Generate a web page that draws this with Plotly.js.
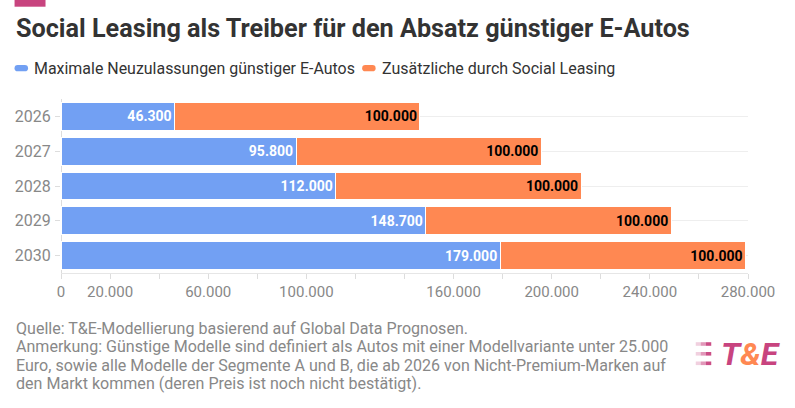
<!DOCTYPE html>
<html>
<head>
<meta charset="utf-8">
<script src="https://cdn.plot.ly/plotly-3.0.1.min.js"></script>
<style>
html,body{margin:0;padding:0;background:#fff;}
#chart{width:795px;height:408px;}
</style>
</head>
<body>
<div id="chart"></div>
<script>
// ---- data ----
const years = ["2026", "2027", "2028", "2029", "2030"];
const maxNeuzulassungen = [46300, 95800, 112000, 148700, 179000];
const zusaetzlichSocial = [100000, 100000, 100000, 100000, 100000];
const seriesNames = ["Maximale Neuzulassungen günstiger E-Autos", "Zusätzliche durch Social Leasing"];
const xTickVals = [0, 20000, 40000, 60000, 80000, 100000, 120000, 140000, 160000, 180000, 200000, 220000, 240000, 260000, 280000];
const xTickText = ["0", "20.000", "", "60.000", "", "100.000", "", "", "160.000", "", "200.000", "", "240.000", "", "280.000"];
const titleText = "Social Leasing als Treiber für den Absatz günstiger E-Autos";
const noteLines = [
  "Quelle: T&E-Modellierung basierend auf Global Data Prognosen.",
  "Anmerkung: Günstige Modelle sind definiert als Autos mit einer Modellvariante unter 25.000",
  "Euro, sowie alle Modelle der Segmente A und B, die ab 2026 von Nicht-Premium-Marken auf",
  "den Markt kommen (deren Preis ist noch nicht bestätigt)."
];

// ---- layout constants ----
const W = 795, H = 408;
const M = {l: 60.5, r: 46.7, t: 99, b: 135};
const PW = W - M.l - M.r, PH = H - M.t - M.b;
const px = x => (x - M.l) / PW;
const py = y => 1 - (y - M.t) / PH;

const BLUE = "#72a0f3", ORANGE = "#ff8852", PINK = "#c8447f";
const FONT = "Roboto, sans-serif";

const traces = [
  {
    type: "bar", orientation: "h", name: seriesNames[0],
    y: years, x: maxNeuzulassungen,
    marker: {color: BLUE, line: {color: "#fff", width: 1}},
    text: maxNeuzulassungen, texttemplate: "%{x:,.0f}",
    textposition: "inside", insidetextanchor: "end",
    textfont: {family: FONT, size: 14, color: "#fff", weight: "bold"},
    hoverinfo: "skip"
  },
  {
    type: "bar", orientation: "h", name: seriesNames[1],
    y: years, x: zusaetzlichSocial,
    marker: {color: ORANGE, line: {color: "#fff", width: 1}},
    text: zusaetzlichSocial, texttemplate: "%{x:,.0f}",
    textposition: "inside", insidetextanchor: "end",
    textfont: {family: FONT, size: 14, color: "#000", weight: "bold"},
    hoverinfo: "skip"
  }
];

const annotations = [];
const fitGroups = {};   // group -> {idx: [annotation indices], ref: index used to fit, width: target px}
const shapes = [];

function addText(x, y, text, font, group) {
  annotations.push({
    xref: "paper", yref: "paper", x: px(x), y: py(y), xanchor: "left", yanchor: "middle",
    align: "left", borderpad: 0, text: text, showarrow: false, font: font
  });
  if (group) fitGroups[group].idx.push(annotations.length - 1);
  return annotations.length - 1;
}
function pill(x0, x1, y0, y1, color) {
  const r = (y1 - y0) / 2;
  const P = (x, y) => px(x) + "," + py(y);
  const d = "M" + P(x0 + r, y0) + " L" + P(x1 - r, y0) + " Q" + P(x1, y0) + " " + P(x1, y0 + r) +
    " Q" + P(x1, y1) + " " + P(x1 - r, y1) + " L" + P(x0 + r, y1) + " Q" + P(x0, y1) + " " + P(x0, y1 - r) +
    " Q" + P(x0, y0) + " " + P(x0 + r, y0) + " Z";
  shapes.push({type: "path", xref: "paper", yref: "paper", path: d, fillcolor: color, line: {width: 0}});
}

fitGroups.title = {idx: [], ref: null, width: 674};
fitGroups.legend = {idx: [], ref: null, width: 321};
fitGroups.notes = {idx: [], ref: null, width: 653};

// title
fitGroups.title.ref = addText(14, 28.5, "<b>" + titleText + "</b>", {family: FONT, size: 25, color: "#333"}, "title");
// legend (manual)
const legendX = [14, 362];
const legendColors = [BLUE, ORANGE];
seriesNames.forEach((n, i) => {
  pill(legendX[i], legendX[i] + 13.5, 65, 71.3, legendColors[i]);
  const k = addText(legendX[i] + 18.5, 68.3, n, {family: FONT, size: 16, color: "#333"}, i === 0 ? "legend" : null);
  if (i === 0) fitGroups.legend.ref = k;
});
// notes
noteLines.forEach((t, i) => {
  const k = addText(14, 328.3 + i * 18.4, t, {family: FONT, size: 16, color: "#888"}, "notes");
  if (i === 1) fitGroups.notes.ref = k;
});
// top pink tab
shapes.push({type: "rect", xref: "paper", yref: "paper", x0: px(14), x1: px(45), y0: py(0), y1: py(6.7),
  fillcolor: PINK, line: {width: 0}});
// logo stripes (fading to the left)
[342.2, 352.0, 361.5].forEach(y => {
  [[696, 701, 0.25], [701, 706, 0.55], [706, 711.5, 0.95]].forEach(s => {
    shapes.push({type: "rect", xref: "paper", yref: "paper",
      x0: px(s[0]), x1: px(s[1]), y0: py(y), y1: py(y + 3.6),
      fillcolor: PINK, opacity: s[2], line: {width: 0}});
  });
});
addText(720, 354, "<b><i><span style='color:" + PINK + "'>T</span><span style='color:" + ORANGE + "'>&amp;</span><span style='color:" + PINK + "'>E</span></i></b>",
  {family: FONT, size: 32, color: PINK});

const layout = {
  width: W, height: H,
  margin: M,
  paper_bgcolor: "#fff", plot_bgcolor: "#fff",
  barmode: "stack", bargap: 0.2,
  separators: ",.",
  showlegend: false,
  xaxis: {
    range: [0, 280000], fixedrange: true,
    tickmode: "array", tickvals: xTickVals, ticktext: xTickText,
    ticks: "outside", ticklen: 5, tickcolor: "#ddd",
    showgrid: false, zeroline: true, zerolinecolor: "#ddd", zerolinewidth: 1,
    showline: true, linecolor: "#e6e6e6", linewidth: 1,
    tickfont: {family: FONT, size: 15, color: "#888"}
  },
  yaxis: {
    type: "category", autorange: "reversed", fixedrange: true,
    ticks: "outside", ticklen: 5, tickcolor: "#ddd",
    showgrid: true, gridcolor: "#eee", gridwidth: 1,
    showline: false, zeroline: false,
    ticklabelstandoff: 1,
    tickfont: {family: FONT, size: 16, color: "#888"}
  },
  annotations: annotations,
  shapes: shapes
};

Plotly.newPlot("chart", traces, layout, {displayModeBar: false, staticPlot: true}).then(gd => {
  // fit text sizes so the rendered widths match the original's widths
  const upd = {};
  Object.values(fitGroups).forEach(g => {
    const t = gd.querySelector('.annotation[data-index="' + g.ref + '"] text.annotation-text');
    if (!t) return;
    const w = t.getBBox().width;
    if (!w) return;
    let f = g.width / w;
    f = Math.max(0.85, Math.min(1.15, f));
    g.idx.forEach(i => {
      upd["annotations[" + i + "].font.size"] = +(annotations[i].font.size * f).toFixed(2);
    });
  });
  return Plotly.relayout(gd, upd);
});
</script>
</body>
</html>
